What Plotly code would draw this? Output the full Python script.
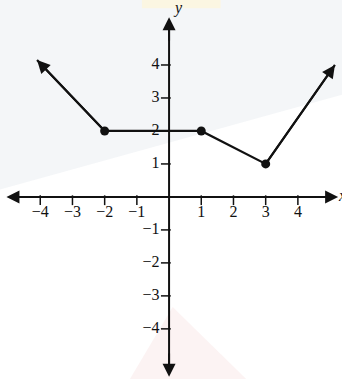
import plotly.graph_objects as go

# piecewise graph: ray in, two vertices, ray out
graph_x = [-4.1, -2, 1, 3, 5.15]
graph_y = [4.15, 2, 2, 1, 4.0]
dot_x = [-2, 1, 3]
dot_y = [2, 2, 1]

x_ticks = [-4, -3, -2, -1, 1, 2, 3, 4]
x_labels = ["−4", "−3", "−2", "−1", "1", "2", "3", "4"]
y_ticks = [4, 3, 2, 1, -1, -2, -3, -4]
y_labels = ["4", "3", "2", "1", "−1", "−2", "−3", "−4"]

FONT = "Liberation Serif"
INK = "#111111"

fig = go.Figure()

# axis lines
fig.add_trace(go.Scatter(x=[-4.95, 5.15], y=[0, 0], mode="lines",
                         line=dict(color=INK, width=2), hoverinfo="skip"))
fig.add_trace(go.Scatter(x=[0, 0], y=[-5.35, 5.3], mode="lines",
                         line=dict(color=INK, width=2), hoverinfo="skip"))

# tick marks
fig.add_trace(go.Scatter(x=x_ticks, y=[-0.1] * len(x_ticks), mode="markers",
                         marker=dict(symbol="line-ns", size=7, line=dict(color=INK, width=1.5)),
                         hoverinfo="skip"))
fig.add_trace(go.Scatter(x=[-0.1] * len(y_ticks), y=y_ticks, mode="markers",
                         marker=dict(symbol="line-ew", size=7, line=dict(color=INK, width=1.5)),
                         hoverinfo="skip"))

# tick labels
fig.add_trace(go.Scatter(x=x_ticks, y=[-0.5] * len(x_ticks), mode="text", text=x_labels,
                         textfont=dict(family=FONT, size=16, color=INK), hoverinfo="skip"))
fig.add_trace(go.Scatter(x=[-0.3] * len(y_ticks), y=y_ticks, mode="text", text=y_labels,
                         textposition="middle left",
                         textfont=dict(family=FONT, size=16, color=INK), hoverinfo="skip"))

# the graph
fig.add_trace(go.Scatter(x=graph_x, y=graph_y, mode="lines",
                         line=dict(color=INK, width=2.2), hoverinfo="skip"))
fig.add_trace(go.Scatter(x=dot_x, y=dot_y, mode="markers",
                         marker=dict(color=INK, size=9), hoverinfo="skip"))

# arrowheads
def arrow(tip, tail):
    fig.add_annotation(x=tip[0], y=tip[1], ax=tail[0], ay=tail[1],
                       xref="x", yref="y", axref="x", ayref="y", text="",
                       showarrow=True, arrowhead=2, arrowsize=1.3, arrowwidth=2,
                       arrowcolor=INK, standoff=0)

arrow((graph_x[0], graph_y[0]), (graph_x[1], graph_y[1]))
arrow((graph_x[-1], graph_y[-1]), (graph_x[-2], graph_y[-2]))
arrow((5.25, 0), (4.5, 0))
arrow((-5.05, 0), (-4.3, 0))
arrow((0, 5.45), (0, 4.7))
arrow((0, -5.45), (0, -4.7))

fig.add_annotation(x=0.28, y=5.72, text="<i>y</i>", showarrow=False,
                   font=dict(family=FONT, size=16, color=INK))
fig.add_annotation(x=5.36, y=0.05, text="<i>x</i>", showarrow=False,
                   font=dict(family=FONT, size=16, color=INK))

# scan tints
fig.add_shape(type="path", xref="paper", yref="paper",
              path="M 0 1 L 1 1 L 1 0.75 L 0 0.5 Z",
              fillcolor="rgba(220,224,232,0.3)", line=dict(width=0), layer="below")
fig.add_shape(type="rect", xref="paper", yref="paper", x0=0.415, x1=0.645, y0=0.978, y1=1,
              fillcolor="#fbf6e2", line=dict(width=0), layer="below")
fig.add_shape(type="path", xref="paper", yref="paper",
              path="M 0.505 0.19 L 0.38 0 L 0.72 0 Z",
              fillcolor="rgba(245,215,215,0.3)", line=dict(width=0), layer="below")

fig.update_layout(
    width=342, height=379,
    margin=dict(l=0, r=0, t=0, b=0),
    plot_bgcolor="white", paper_bgcolor="white",
    showlegend=False,
    xaxis=dict(range=[-5.25, 5.37], visible=False, fixedrange=True),
    yaxis=dict(range=[-5.52, 5.97], visible=False, fixedrange=True),
)

fig.write_html("out.html", config=dict(displayModeBar=False),
               post_script="document.body.style.margin='0';")
